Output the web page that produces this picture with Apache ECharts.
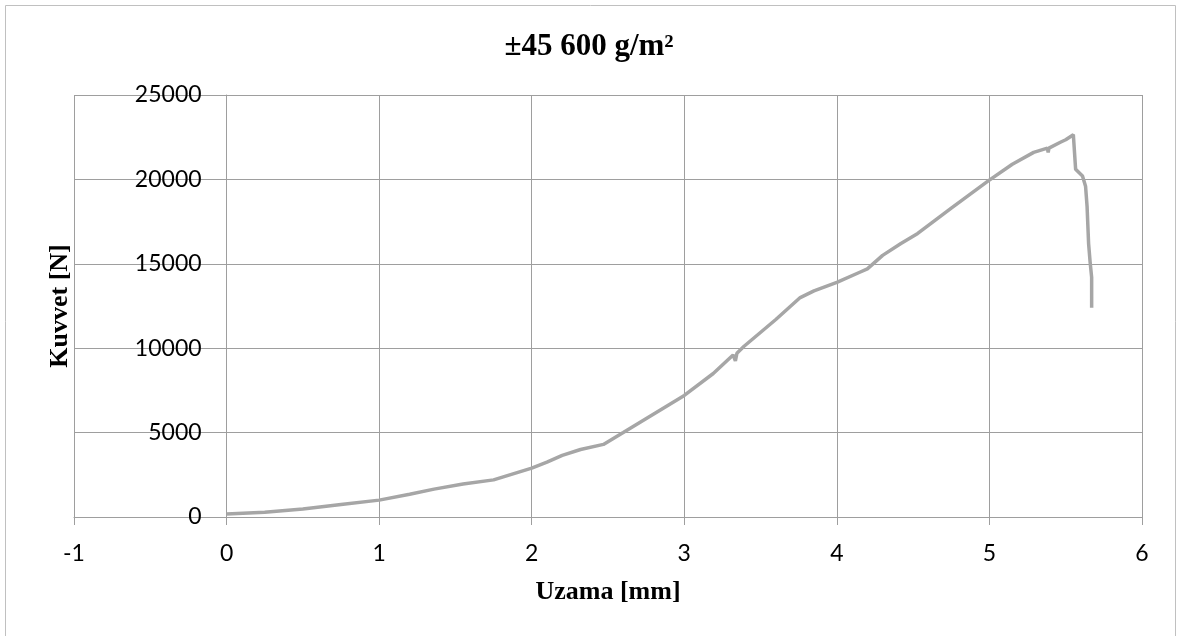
<!DOCTYPE html>
<html>
<head>
<meta charset="utf-8">
<script src="https://cdn.jsdelivr.net/npm/echarts@6/dist/echarts.min.js"></script>
<style>
html,body{margin:0;padding:0;background:#fff;}
#chart{width:1178px;height:636px;}
</style>
</head>
<body>
<div id="chart"></div>
<script>
// Elongation [mm]
var uzama = [0, 0.25, 0.5, 0.75, 1.0, 1.2, 1.36, 1.55, 1.75, 2.0, 2.1, 2.2, 2.32, 2.47, 2.6, 2.8, 3.0, 3.19, 3.32, 3.335, 3.345, 3.39, 3.6, 3.76, 3.85, 4.0, 4.15, 4.2, 4.3, 4.42, 4.53, 4.75, 4.99, 5.15, 5.29, 5.38, 5.385, 5.39, 5.465, 5.5, 5.55, 5.565, 5.61, 5.63, 5.64, 5.65, 5.66, 5.67, 5.67];
// Force [N]
var kuvvet = [180, 280, 480, 740, 1000, 1350, 1650, 1950, 2200, 2900, 3250, 3650, 4000, 4300, 5000, 6100, 7200, 8500, 9600, 9250, 9700, 10100, 11700, 13000, 13400, 13900, 14500, 14700, 15500, 16200, 16800, 18300, 19900, 20900, 21600, 21850, 21600, 21850, 22200, 22350, 22650, 20600, 20200, 19600, 18400, 16200, 15100, 14200, 12400];

var titleText = '±45 600 g/m²';
var xName = 'Uzama [mm]';
var yName = 'Kuvvet [N]';

var points = uzama.map(function (x, i) { return [x, kuvvet[i]]; });
function plain(v) { return String(v); }

var gridLeft = 74, gridRight = 36;
var xMin = -1, xMax = 6;
// shift the y axis so it crosses the x axis at 0 (Excel-style crossing)
var yAxisOffset = -(1178 - gridLeft - gridRight) * (0 - xMin) / (xMax - xMin);

var gridColor = '#9e9e9e';
var chart = echarts.init(document.getElementById('chart'));
chart.setOption({
  animation: false,
  backgroundColor: '#ffffff',
  graphic: [{
    type: 'rect',
    shape: { x: 5.5, y: 5.5, width: 1170, height: 650 },
    style: { fill: 'none', stroke: '#c0c0c0', lineWidth: 1 },
    silent: true
  }],
  title: {
    text: titleText,
    left: 'center',
    top: 26,
    textStyle: { fontFamily: 'Liberation Serif', fontWeight: 'bold', fontSize: 31, color: '#000' }
  },
  grid: { left: gridLeft, right: gridRight, top: 95, bottom: 119, containLabel: false, outerBoundsMode: 'none' },
  xAxis: {
    type: 'value',
    min: xMin, max: xMax, interval: 1,
    name: xName,
    nameLocation: 'middle',
    nameGap: 62,
    nameTextStyle: { fontFamily: 'Liberation Serif', fontWeight: 'bold', fontSize: 26, color: '#000' },
    axisLine: { show: true, onZero: false, lineStyle: { color: gridColor, width: 1 } },
    axisTick: { show: true, length: 8, lineStyle: { color: gridColor } },
    axisLabel: { margin: 25, fontFamily: 'Lato', fontSize: 23, color: '#000', formatter: plain },
    splitLine: { show: true, lineStyle: { color: gridColor, width: 1 } }
  },
  yAxis: {
    type: 'value',
    min: 0, max: 25000, interval: 5000,
    offset: yAxisOffset,
    name: yName,
    nameLocation: 'middle',
    nameGap: 153,
    nameTextStyle: { fontFamily: 'Liberation Serif', fontWeight: 'bold', fontSize: 26, color: '#000' },
    axisLine: { show: true, onZero: false, lineStyle: { color: gridColor, width: 1 } },
    axisTick: { show: true, length: 8, lineStyle: { color: gridColor } },
    axisLabel: { margin: 25, fontFamily: 'Lato', fontSize: 23, color: '#000', formatter: plain },
    splitLine: { show: true, lineStyle: { color: gridColor, width: 1 } }
  },
  series: [{
    type: 'line',
    data: points,
    showSymbol: false,
    symbol: 'none',
    smooth: false,
    lineStyle: { color: '#a6a6a6', width: 3.5 },
    z: 5
  }]
});
</script>
</body>
</html>
